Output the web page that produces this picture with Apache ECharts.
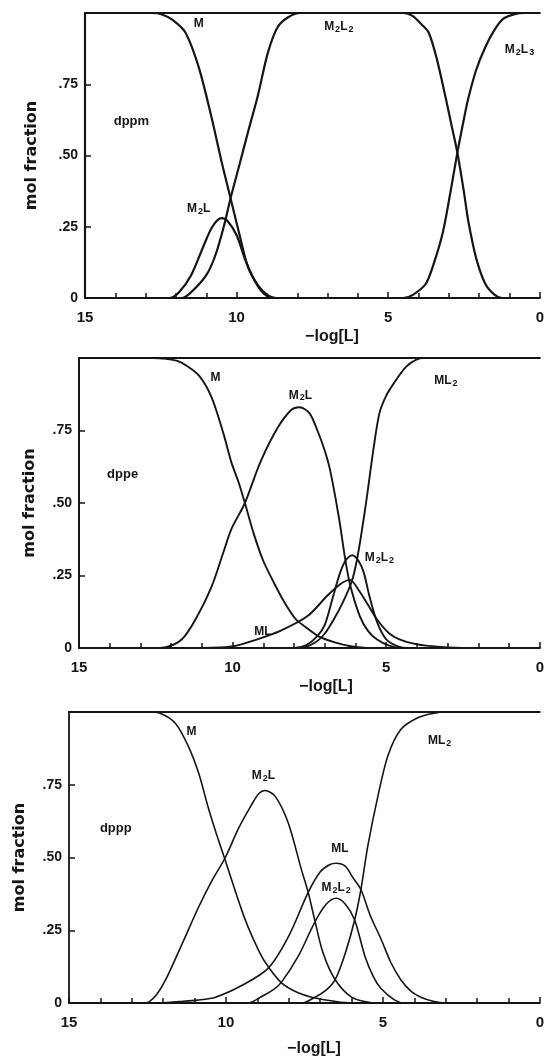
<!DOCTYPE html>
<html><head><meta charset="utf-8">
<script src="https://cdn.jsdelivr.net/npm/echarts/dist/echarts.min.js"></script>
<style>html,body{margin:0;padding:0;background:#fff}#c{width:547px;height:1059px}</style>
</head><body><div id="c"></div>
<script>
// ---------- data (x = -log[L], y = mol fraction) ----------
const xTickLabels = ['0', '5', '10', '15'];
const yTickLabels = ['0', '.25', '.50', '.75', ''];
const yName = 'mol fraction';
const xName = '\u2212log[L]';

// dppm
const dppm_M = [[15,1],[12.8,1],[12.46,0.995],[12.1,0.975],[11.68,0.93],[11.25,0.81],[10.83,0.635],[10.5,0.48],[10.2,0.35],[9.9,0.22],[9.63,0.11],[9.3,0.045],[9.0,0.012],[8.7,0],[0,0]];
const dppm_M2L = [[15,0],[12.2,0],[11.9,0.02],[11.5,0.08],[11.1,0.18],[10.8,0.25],[10.5,0.28],[10.3,0.27],[10.0,0.22],[9.7,0.13],[9.4,0.06],[9.1,0.015],[8.8,0],[0,0]];
const dppm_M2L2 = [[15,0],[11.8,0],[11.5,0.02],[11.0,0.08],[10.7,0.15],[10.4,0.26],[10.2,0.35],[9.9,0.47],[9.63,0.58],[9.3,0.71],[8.97,0.86],[8.65,0.95],[8.3,0.985],[7.9,1],[4.5,1],[4.2,0.99],[3.9,0.96],[3.66,0.93],[3.4,0.84],[3.1,0.7],[2.9,0.6],[2.72,0.51],[2.5,0.37],[2.36,0.27],[2.1,0.14],[1.8,0.05],[1.5,0.012],[1.25,0],[0,0]];
const dppm_M2L3 = [[15,0],[4.5,0],[4.2,0.01],[3.76,0.05],[3.5,0.12],[3.2,0.23],[2.95,0.37],[2.72,0.51],[2.5,0.63],[2.36,0.7],[2.1,0.8],[1.8,0.88],[1.5,0.94],[1.2,0.98],[0.8,0.997],[0.5,1],[0,1]];
const dppm_labels = [[11.25,0.96,'M'],[11.25,0.31,'M2L'],[6.63,0.95,'M2L2'],[0.67,0.87,'M2L3'],[13.47,0.62,'dppm']];

// dppe
const dppe_M = [[15,1],[12.6,1],[12.17,0.997],[11.8,0.99],[11.52,0.975],[11.1,0.94],[10.69,0.866],[10.3,0.74],[10.04,0.64],[9.8,0.57],[9.6,0.5],[9.3,0.39],[9.0,0.3],[8.63,0.22],[8.3,0.155],[7.95,0.1],[7.66,0.075],[7.2,0.04],[6.7,0.02],[6.2,0.007],[5.5,0],[0,0]];
const dppe_M2L = [[15,0],[12.6,0],[12.17,0.003],[11.65,0.03],[11.2,0.1],[10.69,0.21],[10.3,0.33],[10.04,0.41],[9.6,0.5],[9.1,0.64],[8.53,0.76],[8.1,0.82],[7.82,0.83],[7.5,0.81],[7.24,0.75],[7.0,0.68],[6.82,0.61],[6.54,0.45],[6.34,0.31],[6.18,0.22],[5.86,0.11],[5.6,0.06],[5.31,0.03],[4.9,0.008],[4.5,0],[0,0]];
const dppe_ML = [[15,0],[11,0],[10.04,0.005],[9.2,0.03],[8.43,0.06],[7.56,0.11],[6.92,0.18],[6.5,0.22],[6.18,0.235],[5.9,0.2],[5.6,0.15],[5.31,0.1],[4.9,0.05],[4.57,0.03],[4.1,0.015],[3.7,0.008],[3.0,0.002],[2,0],[0,0]];
const dppe_M2L2 = [[15,0],[8.0,0],[7.6,0.01],[7.25,0.04],[7.0,0.08],[6.75,0.17],[6.5,0.26],[6.3,0.305],[6.1,0.32],[5.9,0.3],[5.73,0.26],[5.55,0.18],[5.3,0.09],[5.0,0.03],[4.6,0.005],[4.3,0],[0,0]];
const dppe_ML2 = [[15,0],[7.8,0],[7.3,0.02],[7.0,0.05],[6.7,0.1],[6.4,0.16],[6.12,0.23],[5.96,0.3],[5.8,0.4],[5.63,0.52],[5.41,0.69],[5.22,0.81],[5.0,0.87],[4.77,0.91],[4.35,0.97],[4.0,0.995],[3.8,1],[0,1]];
const dppe_labels = [[10.56,0.93,'M'],[7.79,0.87,'M2L'],[3.06,0.92,'ML2'],[5.22,0.31,'M2L2'],[9.01,0.055,'ML'],[13.58,0.6,'dppe']];

// dppp
const dppp_M = [[15,1],[12.5,1],[12.08,0.995],[11.6,0.96],[11.19,0.88],[10.87,0.79],[10.56,0.67],[10.3,0.58],[10.02,0.49],[9.75,0.4],[9.5,0.32],[9.29,0.26],[9.0,0.19],[8.75,0.14],[8.24,0.07],[7.7,0.035],[7.16,0.017],[6.5,0.005],[6.0,0],[0,0]];
const dppp_M2L = [[15,0],[12.6,0],[12.46,0.003],[12.2,0.03],[11.92,0.08],[11.41,0.2],[10.87,0.33],[10.45,0.42],[10.02,0.5],[9.6,0.6],[9.19,0.68],[8.95,0.72],[8.75,0.73],[8.43,0.71],[8.02,0.62],[7.6,0.46],[7.38,0.38],[7.16,0.28],[6.9,0.17],[6.52,0.08],[6.0,0.02],[5.5,0.003],[5.2,0],[0,0]];
const dppp_ML = [[15,0],[12.2,0],[11.5,0.005],[10.9,0.01],[10.33,0.02],[9.5,0.06],[8.65,0.12],[8.0,0.23],[7.38,0.38],[7.0,0.45],[6.7,0.475],[6.49,0.48],[6.2,0.47],[5.95,0.43],[5.7,0.39],[5.4,0.3],[5.06,0.22],[4.75,0.14],[4.43,0.08],[4.1,0.04],[3.79,0.02],[3.4,0.006],[3.0,0],[0,0]];
const dppp_M2L2 = [[15,0],[9.3,0],[8.9,0.02],[8.5,0.045],[8.24,0.07],[7.7,0.16],[7.16,0.28],[6.8,0.34],[6.49,0.36],[6.2,0.34],[5.9,0.285],[5.57,0.16],[5.3,0.09],[5.06,0.05],[4.62,0.01],[4.3,0],[0,0]];
const dppp_ML2 = [[15,0],[7.6,0],[7.16,0.02],[6.8,0.045],[6.52,0.08],[6.2,0.17],[5.9,0.285],[5.7,0.39],[5.48,0.54],[5.16,0.71],[4.84,0.85],[4.43,0.94],[3.89,0.98],[3.4,0.995],[3.0,1],[0,1]];
const dppp_labels = [[11.1,0.93,'M'],[8.81,0.78,'M2L'],[3.19,0.9,'ML2'],[6.37,0.53,'ML'],[6.49,0.395,'M2L2'],[13.51,0.6,'dppp']];

// ---------- layout / style ----------
const INK = '#151515';
const FONT = 'Liberation Sans';
const panels = [
  {grid:{left:85,right:1,top:13,height:285}, lw:2.2, aw:2.2, nameGap:45, xname:[332,337],
   curves:[dppm_M,dppm_M2L,dppm_M2L2,dppm_M2L3], labels:dppm_labels},
  {grid:{left:79,right:2,top:358,height:290}, lw:1.9, aw:2.0, nameGap:41, xname:[326,687],
   curves:[dppe_M,dppe_M2L,dppe_ML,dppe_M2L2,dppe_ML2], labels:dppe_labels},
  {grid:{left:69,right:4,top:712,height:291}, lw:1.6, aw:1.8, nameGap:41, xname:[314,1049],
   curves:[dppp_M,dppp_M2L,dppp_ML,dppp_M2L2,dppp_ML2], labels:dppp_labels}
];

function toRich(s){
  if (/^d/.test(s)) return '{t|' + s + '}';
  return s.split(/(\d)/).filter(t=>t!=='').map(t=>/\d/.test(t)?'{s|'+t+'}':'{b|'+t+'}').join('');
}

const grids=[], xAxes=[], yAxes=[], series=[], graphics=[];
panels.forEach((p,i)=>{
  grids.push(Object.assign({containLabel:false}, p.grid));
  xAxes.push({gridIndex:i, type:'value', min:0, max:15, interval:5, inverse:true, position:'bottom',
    axisLine:{show:true, onZero:false, lineStyle:{color:INK, width:p.aw}},
    axisTick:{show:true, inside:true, length:6, lineStyle:{color:INK, width:1.5}},
    minorTick:{show:true, splitNumber:5, length:5, lineStyle:{color:INK, width:1.5}},
    axisLabel:{margin:12, fontFamily:FONT, fontSize:15, fontWeight:'bold', color:INK,
      formatter:v=>xTickLabels[Math.round(v/5)]},
    splitLine:{show:false}, minorSplitLine:{show:false}});
  xAxes.push({gridIndex:i, type:'value', min:0, max:15, inverse:true, position:'top',
    axisLine:{show:true, onZero:false, lineStyle:{color:INK, width:p.aw}},
    axisTick:{show:false}, axisLabel:{show:false}, splitLine:{show:false}});
  yAxes.push({gridIndex:i, type:'value', min:0, max:1, interval:0.25,
    axisLine:{show:true, onZero:false, lineStyle:{color:INK, width:p.aw}},
    axisTick:{show:true, inside:true, length:6, lineStyle:{color:INK, width:1.5}},
    axisLabel:{margin:7, fontFamily:FONT, fontSize:14, fontWeight:'bold', color:INK,
      formatter:v=>yTickLabels[Math.round(v/0.25)]},
    splitLine:{show:false},
    name:yName, nameLocation:'middle', nameGap:p.nameGap,
    nameTextStyle:{fontFamily:'DejaVu Sans', fontSize:16, fontWeight:'bold', color:INK}});
  p.curves.forEach(d=>{
    series.push({type:'line', xAxisIndex:2*i, yAxisIndex:i, data:d, showSymbol:false, symbol:'none',
      smooth:0.3, silent:true, animation:false,
      lineStyle:{color:INK, width:p.lw}});
  });
  const tb = {textBorderWidth:0, textBorderColor:'transparent', textShadowBlur:0};
  series.push({type:'scatter', xAxisIndex:2*i, yAxisIndex:i, symbolSize:1, silent:true, animation:false,
    itemStyle:{color:'rgba(0,0,0,0)'},
    data:p.labels.map(l=>({value:[l[0],l[1]], name:l[2]})),
    label:Object.assign({show:true, position:'inside', color:INK, opacity:1, formatter:q=>toRich(q.name),
      rich:{
        b:Object.assign({fontFamily:FONT, fontSize:12, fontWeight:'bold', color:INK, lineHeight:13, verticalAlign:'top'}, tb),
        s:Object.assign({fontFamily:FONT, fontSize:9, fontWeight:'bold', color:INK, lineHeight:9, verticalAlign:'bottom', padding:[6,0,0,1]}, tb),
        t:Object.assign({fontFamily:FONT, fontSize:13, fontWeight:'bold', color:INK}, tb)
      }}, tb)});
  graphics.push({type:'text', x:p.xname[0], y:p.xname[1],
    style:{text:xName, fontFamily:FONT, fontSize:16, fontWeight:'bold', fill:INK, textAlign:'center', textVerticalAlign:'middle'}});
});

const chart = echarts.init(document.getElementById('c'), null, {renderer:'canvas'});
chart.setOption({animation:false, backgroundColor:'#fff', grid:grids, xAxis:xAxes, yAxis:yAxes, series:series, graphic:graphics});
</script></body></html>
